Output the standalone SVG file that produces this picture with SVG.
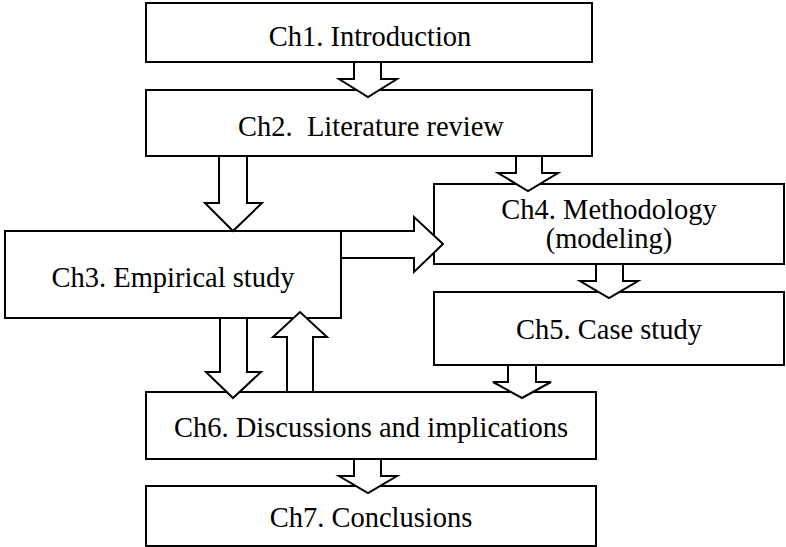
<svg xmlns="http://www.w3.org/2000/svg" width="786" height="547" viewBox="0 0 786 547">
<style>
.box{fill:#fff;stroke:#000;stroke-width:2}
.arr{fill:#fff;stroke:#000;stroke-width:2;stroke-linejoin:miter}
text{font-family:"Liberation Serif","Times New Roman",serif;font-size:28.5px;fill:#000;text-anchor:middle}
</style>
<rect width="786" height="547" fill="#fff"/>
<g id="ch1"><rect class="box" x="146" y="3" width="446" height="59"/><text x="370" y="46">Ch1. Introduction</text></g>
<g id="ch2"><rect class="box" x="146" y="90" width="446" height="66"/><text x="371" y="136" xml:space="preserve">Ch2.  Literature review</text></g>
<g id="ch3"><rect class="box" x="5" y="231" width="336" height="87"/><text x="173" y="287">Ch3. Empirical study</text></g>
<g id="ch4"><rect class="box" x="434" y="184" width="350" height="80"/><text x="609" y="219">Ch4. Methodology</text><text x="609" y="248">(modeling)</text></g>
<g id="ch5"><rect class="box" x="434" y="292" width="350" height="73"/><text x="609" y="339">Ch5. Case study</text></g>
<g id="ch6"><rect class="box" x="146" y="392" width="450" height="67"/><text x="371" y="437">Ch6. Discussions and implications</text></g>
<g id="ch7"><rect class="box" x="146" y="486" width="450" height="60"/><text x="371" y="527">Ch7. Conclusions</text></g>
<g id="connectors">
<polygon class="arr" points="354,62 381,62 381,79 397,79 368,97 339,79 354,79"/>
<polygon class="arr" points="219,156 247,156 247,203 262,203 233,231 205,203 219,203"/>
<polygon class="arr" points="341,231 414,231 414,217 443,244 414,272 414,258 341,258"/>
<polygon class="arr" points="516,156 542,156 542,173 558,173 528,191 498,173 516,173"/>
<polygon class="arr" points="596,264 623,264 623,281 638,281 609,298 580,281 596,281"/>
<polygon class="arr" points="508,365 536,365 536,382 551,382 522,398 493,382 508,382"/>
<polygon class="arr" points="220,318 247,318 247,372 261,372 233,398 206,372 220,372"/>
<polygon class="arr" points="287,392 287,337 273,337 300,312 327,337 313,337 313,392"/>
<polygon class="arr" points="354,459 381,459 381,476 397,476 368,493 339,476 354,476"/>
</g>
</svg>
